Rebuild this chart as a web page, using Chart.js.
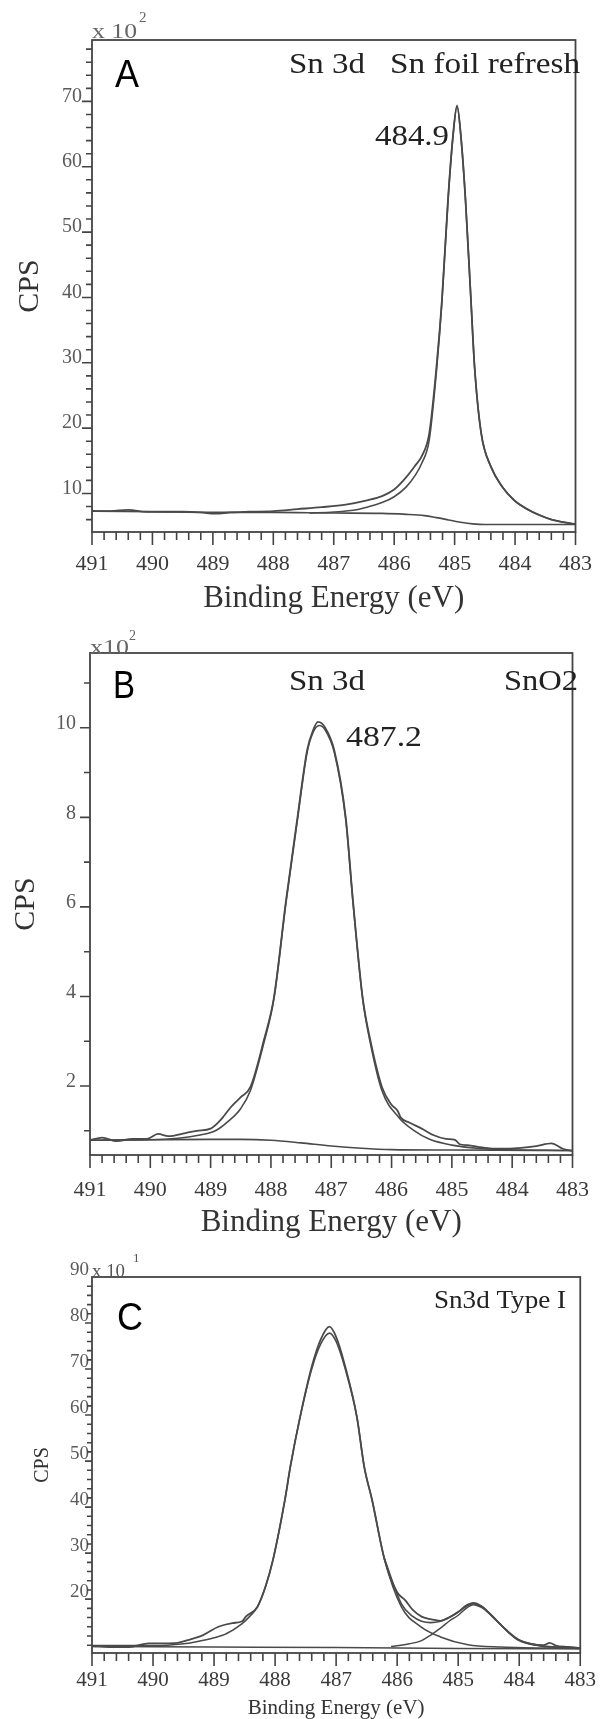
<!DOCTYPE html>
<html><head><meta charset="utf-8">
<script src="https://cdn.jsdelivr.net/npm/chart.js@4.4.1/dist/chart.umd.min.js"></script>
<style>
html,body{margin:0;padding:0;background:#fff;}
body{width:611px;height:1719px;position:relative;overflow:hidden;}
.panel{position:absolute;left:0;width:611px;}
</style></head><body>
<div class="panel" style="top:0;height:620px"><canvas id="ca"></canvas></div>
<div class="panel" style="top:620px;height:625px"><canvas id="cb"></canvas></div>
<div class="panel" style="top:1245px;height:474px"><canvas id="cc"></canvas></div>
<script>
// ---------- shared x axis ----------
const xTickLabels = [491, 490, 489, 488, 487, 486, 485, 484, 483];

// ---------- Panel A : Sn foil refresh (CPS x10^2) ----------
const A_yTicks = [10, 20, 30, 40, 50, 60, 70];
const A_rawE = [491.0,490.7,490.4,490.1,489.8,489.5,489.2,488.96,488.7,488.4,488.0,487.6,487.2,486.8,486.45,486.2,486.0,485.8,485.65,485.55,485.42,485.3,485.21,485.11,485.03,484.96,484.89,484.82,484.73,484.67,484.56,484.4,484.21,484.02,483.8,483.6,483.4,483.2,483.0];
const A_rawV = [7.3,7.3,7.5,7.2,7.2,7.2,7.1,6.9,7.1,7.2,7.3,7.6,7.9,8.3,8.95,9.6,10.6,12.5,14.3,15.6,19.2,29.4,39.6,54.9,64.5,69.4,64.0,54.9,39.6,29.4,19.2,14.1,11.0,9.0,7.6,6.7,6.0,5.6,5.3];
const A_fitE = [487.4,487.0,486.6,486.45,486.2,486.0,485.8,485.65,485.55,485.42,485.3,485.21,485.11,485.03,484.96,484.89,484.82,484.73,484.67,484.56,484.4,484.21,484.02,483.8,483.6,483.4,483.2,483.0];
const A_fitV = [7.0,7.15,7.55,7.9,8.6,9.5,11.0,12.8,14.5,18.2,28.8,39.3,54.7,64.3,69.2,64.0,54.9,39.6,29.4,19.2,14.1,11.0,9.0,7.6,6.7,6.0,5.6,5.3];
const A_bgE = [491,490,489,488,487,486.2,485.8,485.5,485.3,485.1,484.9,484.7,484.5,484.2,483.0];
const A_bgV = [7.3,7.2,7.1,7.1,7.0,6.95,6.8,6.6,6.3,5.95,5.6,5.35,5.25,5.25,5.25];

// ---------- Panel B : SnO2 (CPS x10^2) ----------
const B_yTicks = [2, 4, 6, 8, 10];
const B_rawE = [491.0,490.8,490.56,490.3,490.06,489.87,489.7,489.42,489.23,489.0,488.85,488.78,488.67,488.5,488.34,488.12,487.95,487.75,487.56,487.4,487.3,487.22,487.1,486.95,486.76,486.64,486.48,486.35,486.16,486.0,485.9,485.85,485.7,485.5,485.3,485.1,484.95,484.87,484.74,484.5,484.23,483.85,483.6,483.35,483.16,483.0];
const B_rawV = [0.79,0.85,0.77,0.82,0.82,0.93,0.88,0.95,1.0,1.05,1.22,1.33,1.52,1.75,1.98,3.01,3.98,6.14,8.0,9.5,9.95,10.13,10.0,9.5,8.0,6.14,3.98,3.01,1.98,1.58,1.45,1.3,1.18,1.05,0.9,0.82,0.8,0.7,0.68,0.63,0.6,0.62,0.66,0.72,0.6,0.55];
const B_fitE = [491,490,489.5,489.2,488.92,488.7,488.5,488.34,488.12,487.95,487.75,487.56,487.4,487.3,487.2,487.1,486.95,486.76,486.64,486.48,486.35,486.16,485.88,485.62,485.37,485.0,484.5,483.0];
const B_fitV = [0.79,0.8,0.84,0.9,1.0,1.22,1.5,1.9,2.95,3.95,6.1,7.95,9.45,9.9,10.05,9.95,9.45,7.95,6.1,3.95,2.95,1.9,1.3,1.0,0.81,0.68,0.6,0.56];
const B_bgE = [491,490,489,488.5,488.0,487.5,487.0,486.5,486.0,485.0,483.0];
const B_bgV = [0.79,0.8,0.81,0.81,0.79,0.73,0.66,0.61,0.58,0.57,0.56];

// ---------- Panel C : Sn3d Type I (CPS x10^1) ----------
const C_yTicks = [20, 30, 40, 50, 60, 70, 80, 90];
const C_rawE = [491.0,490.7,490.39,490.07,489.81,489.6,489.43,489.18,488.93,488.7,488.54,488.48,488.29,488.15,488.03,487.84,487.75,487.59,487.4,487.25,487.11,487.0,486.85,486.66,486.54,486.41,486.21,486.0,485.87,485.74,485.6,485.48,485.29,485.15,485.0,484.87,484.75,484.62,484.46,484.21,484.02,483.8,483.6,483.5,483.4,483.2,483.0];
const C_rawV = [9.8,9.6,9.6,10.4,10.4,10.5,11.1,12.2,14.0,14.8,15.2,16.2,18.3,23.0,28.8,41.5,48.8,59.6,70.5,76.5,79.2,77.0,70.5,59.6,48.8,41.5,28.8,21.5,19.8,17.6,16.2,15.7,15.3,16.0,17.2,18.6,19.2,18.5,16.5,13.3,11.3,10.3,10.0,10.5,9.9,9.6,9.4];
const C_mainE = [491,490,489.5,489.31,489.0,488.8,488.54,488.42,488.29,488.15,488.03,487.84,487.75,487.59,487.4,487.25,487.11,487.0,486.85,486.66,486.54,486.41,486.21,485.93,485.61,485.29,484.84,484.3,483.0];
const C_mainV = [9.9,9.9,10.3,10.7,11.6,12.5,14.7,16.2,18.3,23.0,28.8,41.5,48.8,59.6,70.0,75.5,77.8,76.0,70.0,59.6,48.8,41.5,28.8,18.3,14.0,11.8,10.1,9.6,9.3];
const C_secE = [486.1,485.8,485.6,485.45,485.29,485.15,485.0,484.87,484.75,484.62,484.46,484.21,484.02,483.7,483.4,483.0];
const C_secV = [9.7,10.3,11.0,12.2,13.7,15.2,16.5,18.0,18.8,18.2,16.5,13.2,11.1,9.9,9.5,9.3];
const C_envE = [486.21,485.93,485.75,485.6,485.45,485.29,485.15,485.0,484.87,484.75,484.62,484.46,484.21,484.02,483.7,483.0];
const C_envV = [28.8,19.0,16.3,15.2,14.9,15.2,16.0,17.2,18.4,19.0,18.4,16.6,13.2,11.2,10.0,9.4];
const C_bgE = [491,489,487,485,483];
const C_bgV = [9.7,9.6,9.5,9.3,9.2];

// ---------- helpers ----------
const SERIF = "'Liberation Serif','Times New Roman',serif";
const SANS = "'Liberation Sans',Arial,sans-serif";
const LINE = '#4a4a4a';
const zip = (e, v) => e.map((x, i) => ({x: x, y: v[i]}));
const ds = (e, v, w, c) => ({data: zip(e, v), borderColor: c || LINE, borderWidth: w || 1.7, pointRadius: 0, fill: false, cubicInterpolationMode: 'monotone'});
function steps(a, b, s) { const r = []; for (let v = a; v <= b + 1e-9; v += s) r.push(Math.round(v * 100) / 100); return r; }

const frameTicks = {
  id: 'frameTicks',
  afterDraw(chart, args, o) {
    const {ctx, chartArea: a, scales: {x, y}} = chart;
    ctx.save();
    ctx.strokeStyle = '#444';
    ctx.lineWidth = 1.8;
    ctx.strokeRect(a.left, a.top, a.right - a.left, a.bottom - a.top);
    ctx.lineWidth = 1.6;
    ctx.beginPath();
    steps(483, 491, 0.2).forEach(v => {
      const px = x.getPixelForValue(v);
      const major = Math.abs(v - Math.round(v)) < 1e-6;
      ctx.moveTo(px, a.bottom);
      ctx.lineTo(px, a.bottom + (major ? o.xMaj : o.xMin));
    });
    o.yMinor.forEach(v => {
      const py = y.getPixelForValue(v);
      const major = o.yMajor.indexOf(v) >= 0;
      ctx.moveTo(a.left, py);
      ctx.lineTo(a.left - (major ? o.yMaj : o.yMin), py);
    });
    ctx.stroke();
    ctx.textBaseline = 'alphabetic';
    ctx.textAlign = 'left';
    o.texts.forEach(t => {
      ctx.font = t.font;
      ctx.fillStyle = t.color || '#222';
      const m = ctx.measureText(t.text).width;
      const sx = t.w ? t.w / m : 1;
      ctx.save();
      ctx.translate(t.x, t.y);
      ctx.scale(sx, 1);
      ctx.fillText(t.text, 0, 0);
      ctx.restore();
    });
    ctx.restore();
  }
};

function makeChart(id, p) {
  return new Chart(document.getElementById(id), {
    type: 'line',
    data: {datasets: p.datasets},
    plugins: [frameTicks],
    options: {
      responsive: true, maintainAspectRatio: false, animation: false,
      layout: {padding: {top: p.top, right: p.right, left: 0, bottom: 0}},
      plugins: {legend: {display: false}, tooltip: {enabled: false}, frameTicks: p.frame},
      scales: {
        x: {
          type: 'linear', reverse: true, min: 483, max: 491,
          afterBuildTicks: s => { s.ticks = xTickLabels.map(v => ({value: v})); },
          afterFit: s => { s.height = p.xH; },
          grid: {display: false, drawTicks: false}, border: {display: false},
          ticks: {autoSkip: false, maxRotation: 0, padding: p.xPad, color: '#3a3a3a',
                  font: {family: SERIF, size: p.xFont}, callback: v => String(v)},
          title: {display: true, text: 'Binding Energy (eV)', color: '#333',
                  font: {family: SERIF, size: p.titleFont, lineHeight: p.titleLH || 1.2},
                  padding: {top: 0, bottom: p.titlePad}}
        },
        y: {
          type: 'linear', min: p.yMin, max: p.yMax,
          afterBuildTicks: s => { s.ticks = p.yTicks.map(v => ({value: v})); },
          afterFit: s => { s.width = p.yW; },
          grid: {display: false, drawTicks: false}, border: {display: false},
          ticks: {padding: p.yPad, labelOffset: p.yOff, color: '#5a5a5a',
                  font: {family: SERIF, size: p.yFont}, callback: v => String(v)},
          title: {display: true, text: 'CPS', color: '#333',
                  font: {family: SERIF, size: p.cpsFont}, padding: {top: p.cpsPad, bottom: 0}}
        }
      }
    }
  });
}

// Panel A
makeChart('ca', {
  datasets: [ds(A_bgE, A_bgV, 1.6), ds(A_fitE, A_fitV, 1.6), ds(A_rawE, A_rawV, 1.8)],
  top: 40, right: 29, yW: 92, xH: 88,
  yMin: 4.1, yMax: 79.4, yTicks: A_yTicks,
  xFont: 22, xPad: 19, titleFont: 31, titlePad: 3,
  yFont: 20, yPad: 10, yOff: -5, cpsFont: 30, cpsPad: 12,
  frame: {xMaj: 13, xMin: 8, yMaj: 10, yMin: 6, yMajor: A_yTicks, yMinor: steps(6, 78, 2),
    texts: [
      {text: 'x 10', x: 92, y: 38, font: '22px ' + SERIF, color: '#666', w: 45},
      {text: '2', x: 139, y: 22, font: '15px ' + SERIF, color: '#666'},
      {text: 'A', x: 115, y: 87, font: '38px ' + SANS, color: '#000', w: 24},
      {text: 'Sn 3d', x: 289, y: 73, font: '30px ' + SERIF, w: 76},
      {text: 'Sn foil refresh', x: 390, y: 73, font: '30px ' + SERIF, w: 190},
      {text: '484.9', x: 375, y: 145, font: '30px ' + SERIF, w: 74}
    ]}
});

// Panel B
makeChart('cb', {
  datasets: [ds(B_bgE, B_bgV, 1.6), ds(B_fitE, B_fitV, 1.6), ds(B_rawE, B_rawV, 1.8)],
  top: 33, right: 27, yW: 90, xH: 90,
  yMin: 0.46, yMax: 11.67, yTicks: B_yTicks,
  xFont: 22, xPad: 22, titleFont: 31, titlePad: 4,
  yFont: 20, yPad: 14, yOff: -4, cpsFont: 30, cpsPad: 8,
  frame: {xMaj: 13, xMin: 8, yMaj: 10, yMin: 6, yMajor: B_yTicks, yMinor: steps(1, 11, 1),
    texts: [
      {text: 'x10', x: 90, y: 654, font: '21px ' + SERIF, color: '#666', w: 39},
      {text: '2', x: 129, y: 640, font: '14px ' + SERIF, color: '#666'},
      {text: 'B', x: 113, y: 698, font: '38px ' + SANS, color: '#000', w: 22},
      {text: 'Sn 3d', x: 289, y: 690, font: '30px ' + SERIF, w: 76},
      {text: 'SnO2', x: 504, y: 690, font: '30px ' + SERIF, w: 74},
      {text: '487.2', x: 346, y: 746, font: '30px ' + SERIF, w: 76}
    ].map(t => Object.assign(t, {y: t.y - 620}))}
});

// Panel C
makeChart('cc', {
  datasets: [ds(C_bgE, C_bgV, 1.5), ds(C_secE, C_secV, 1.5), ds(C_mainE, C_mainV, 1.6), ds(C_envE, C_envV, 1.6), ds(C_rawE, C_rawV, 1.8)],
  top: 32, right: 29, yW: 92, xH: 66,
  yMin: 8.3, yMax: 90, yTicks: C_yTicks,
  xFont: 21, xPad: 15, titleFont: 21, titleLH: 1.0, titlePad: 0,
  yFont: 19, yPad: 3, yOff: -7, cpsFont: 20, cpsPad: 31,
  frame: {xMaj: 13, xMin: 8, yMaj: 7, yMin: 5, yMajor: C_yTicks, yMinor: steps(10, 88, 2),
    texts: [
      {text: 'x 10', x: 92, y: 1277, font: '19px ' + SERIF, color: '#555', w: 33},
      {text: '1', x: 133, y: 1262, font: '13px ' + SERIF, color: '#555'},
      {text: 'C', x: 117, y: 1330, font: '38px ' + SANS, color: '#000', w: 26},
      {text: 'Sn3d Type I', x: 434, y: 1308, font: '26px ' + SERIF, w: 132}
    ].map(t => Object.assign(t, {y: t.y - 1245}))}
});
</script>
</body></html>
